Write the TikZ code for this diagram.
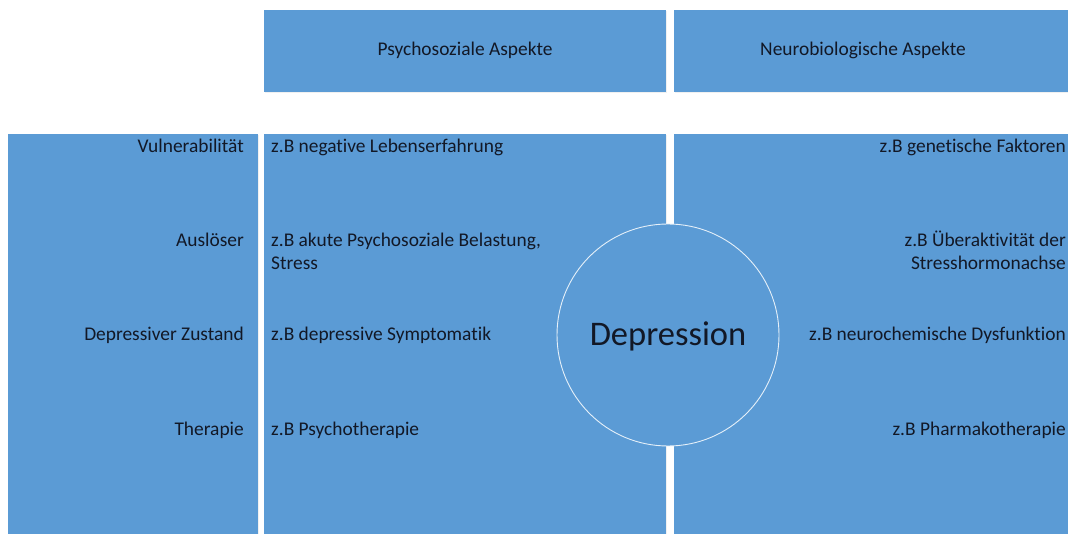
\documentclass[tikz,border=0pt]{standalone}
\usepackage{fontspec}
\setmainfont{Carlito}[Ligatures=NoCommon]
\usetikzlibrary{shadows}
\definecolor{boxblue}{HTML}{5B9BD5}
\definecolor{txt}{RGB}{18,24,38}
\begin{document}
\begin{tikzpicture}[x=1pt,y=-1pt,
  panel/.style={fill=boxblue, draw=none, drop shadow={opacity=0.12, shadow xshift=0.8pt, shadow yshift=-1.2pt}},
  lbl/.style={inner sep=0pt, text=txt, font=\fontsize{19.4}{23.5}\selectfont},
  lblr/.style={lbl, anchor=base east, align=right},
  lbll/.style={lbl, anchor=base west, align=left}]
\useasboundingbox (0,0) rectangle (1068,534);
% panels
\path[panel] (264,10) rectangle (666,92) node[coordinate] (hpsy) {};
\path[panel] (674,10) rectangle (1075,92) node[coordinate] (hneu) {};
\path[panel] (8,134) rectangle (258,545) node[coordinate] (cleft) {};
\path[panel] (264,134) rectangle (666,545) node[coordinate] (cmid) {};
\path[panel] (674,134) rectangle (1075,545) node[coordinate] (cright) {};
% headers
\node[lbl, anchor=base] (tpsy) at (465,56) {Psychosoziale Aspekte};
\node[lbl, anchor=base] (tneu) at (863,56) {Neurobiologische Aspekte};
% left column
\node[lblr] (l1) at (244,153) {Vulnerabilität};
\node[lblr] (l2) at (244,247) {Auslöser};
\node[lblr] (l3) at (244,341) {Depressiver Zustand};
\node[lblr] (l4) at (244,435) {Therapie};
% middle column
\node[lbll] (m1) at (271,153) {z.B negative Lebenserfahrung};
\node[lbll] (m2) at (271,270) {z.B akute Psychosoziale Belastung,\\Stress};
\node[lbll] (m3) at (271,341) {z.B depressive Symptomatik};
\node[lbll] (m4) at (271,435) {z.B Psychotherapie};
% right column
\node[lblr] (r1) at (1066,153) {z.B genetische Faktoren};
\node[lblr] (r2) at (1066,270) {z.B Überaktivität der\\Stresshormonachse};
\node[lblr] (r3) at (1066,341) {z.B neurochemische Dysfunktion};
\node[lblr] (r4) at (1066,435) {z.B Pharmakotherapie};
% circle
\node[circle, minimum size=222pt, inner sep=0pt, fill=boxblue, draw=white!85!boxblue, line width=0.9pt] (circ) at (668,335) {};
\node[lbl, font=\fontsize{34.5}{40}\selectfont, anchor=base] (dep) at (668,345.5) {Depression};
\end{tikzpicture}
\end{document}
